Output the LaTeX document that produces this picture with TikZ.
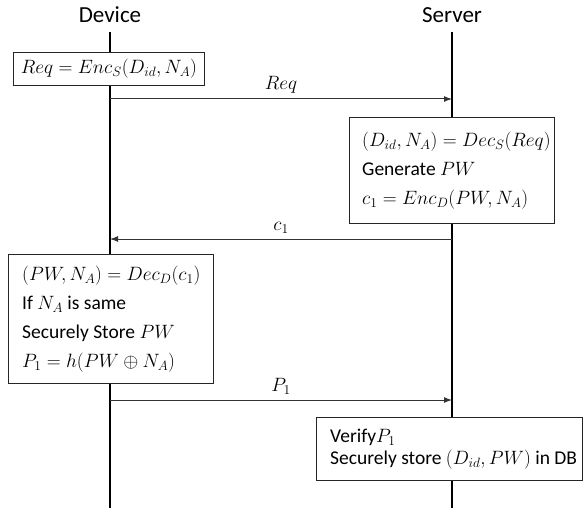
\documentclass[tikz,border=0pt]{standalone}
\usepackage{fix-cm}
\usepackage{fontspec}
\setmainfont{Carlito}
\usetikzlibrary{arrows.meta}
\newcommand{\mm}[1]{{\fontsize{19.3}{29}\selectfont$#1$}}
\begin{document}
\begin{tikzpicture}[x=1pt,y=-1pt,
  every node/.style={font=\fontsize{19.5}{29}\selectfont},
  head/.style={inner sep=0pt,font=\fontsize{23}{26}\selectfont},
  lifeline/.style={line width=2.6pt,black},
  msg/.style={line width=1pt,draw=black!80,-{Latex[length=8pt,width=6pt]}},
  actbox/.style={draw=black!85,line width=0.9pt,fill=white,align=left,inner xsep=0pt,inner ysep=0pt,anchor=north west},
  lbl/.style={inner sep=0pt}]
\useasboundingbox (0,0) rectangle (584,508);
% heads
\node[head] (dev) at (110,15) {Device};
\node[head] (srv) at (452,15) {Server};
\coordinate (dtop) at (110,32);
\coordinate (dbot) at (110,508);
\coordinate (stop) at (452,32);
\coordinate (sbot) at (452,508);
\draw[lifeline] (dtop) -- (dbot);
\draw[lifeline] (stop) -- (sbot);
% box 1
\node[actbox,minimum width=191pt,minimum height=33pt] (b1) at (13,52) {};
\node[lbl] at (b1.center) {\mm{Req = Enc_S(D_{id}, N_A)}};
% message Req
\coordinate (m1a) at (110,99);
\coordinate (m1b) at (452,99);
\draw[msg] (m1a) -- (m1b) node[midway,above=5pt,lbl] (l1) {\mm{Req}};
% box 2
\node[actbox,minimum width=205pt,minimum height=106pt] (b2) at (349,117) {};
\node[lbl,anchor=west,align=left] (t2) at ([xshift=13pt]b2.west) {\mm{(D_{id}, N_A) = Dec_S(Req)}\\ Generate \mm{PW}\\ \mm{c_1 = Enc_D(PW, N_A)}};
% message c1
\coordinate (m2a) at (452,239);
\coordinate (m2b) at (110,239);
\draw[msg] (m2a) -- (m2b) node[midway,above=5pt,lbl] (l2) {\mm{c_1}};
% box 3
\node[actbox,minimum width=205pt,minimum height=129pt] (b3) at (8,254) {};
\node[lbl,anchor=west,align=left] (t3) at ([xshift=14pt]b3.west) {\mm{(PW, N_A) = Dec_D(c_1)}\\ If \mm{N_A} is same\\ Securely Store \mm{PW}\\ \mm{P_1 = h(PW \oplus N_A)}};
% message P1
\coordinate (m3a) at (110,400);
\coordinate (m3b) at (452,400);
\draw[msg] (m3a) -- (m3b) node[midway,above=5pt,lbl] (l3) {\mm{P_1}};
% box 4
\node[actbox,minimum width=266pt,minimum height=63pt] (b4) at (316,417) {};
\node[lbl,anchor=west,align=left,font=\fontsize{19.5}{22}\selectfont] (t4) at ([xshift=14pt]b4.west) {Verify\mm{P_1}\\ Securely store \mm{(D_{id}, PW)} in DB};
\end{tikzpicture}
\end{document}
